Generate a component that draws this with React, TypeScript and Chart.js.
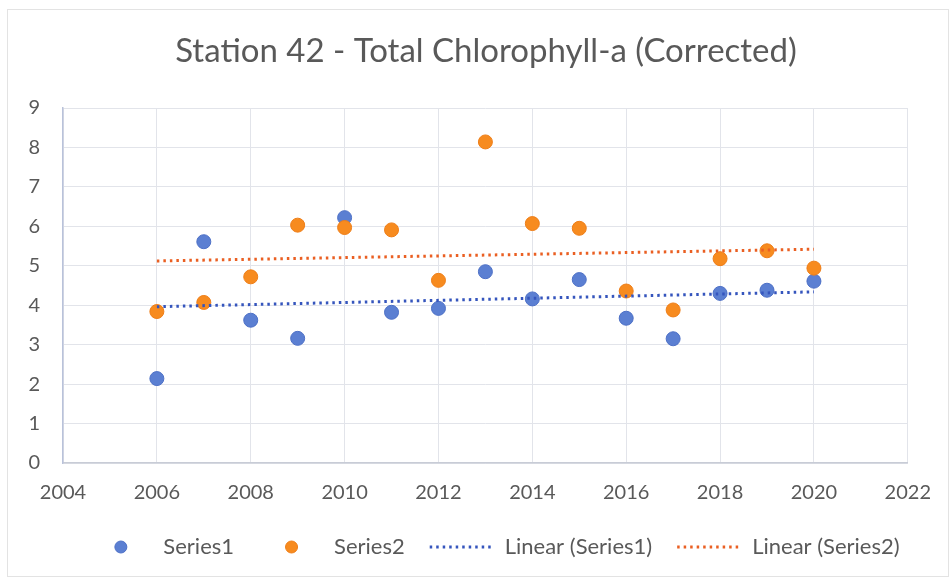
import React, { useEffect, useRef } from "react";
import { Chart, registerables } from "chart.js";

Chart.register(...registerables);

const chartTitle = "Station 42 - Total Chlorophyll-a (Corrected)";
const years = [2006, 2007, 2008, 2009, 2010, 2011, 2012, 2013, 2014, 2015, 2016, 2017, 2018, 2019, 2020];
const series1 = [2.14, 5.61, 3.62, 3.16, 6.22, 3.82, 3.92, 4.85, 4.16, 4.65, 3.67, 3.15, 4.30, 4.38, 4.61];
const series2 = [3.84, 4.07, 4.72, 6.03, 5.97, 5.91, 4.63, 8.14, 6.07, 5.95, 4.36, 3.88, 5.18, 5.38, 4.94];
const xTickValues = [2004, 2006, 2008, 2010, 2012, 2014, 2016, 2018, 2020, 2022];
const yTickValues = [0, 1, 2, 3, 4, 5, 6, 7, 8, 9];
const seriesNames = ["Series1", "Series2", "Linear (Series1)", "Linear (Series2)"];

const FONT = "Lato, 'Open Sans', sans-serif";
const TEXT = "#595959";
const BLUE = "#5b7fd2";
const BLUE_EDGE = "#4d70c6";
const ORANGE = "#f78b1f";
const ORANGE_EDGE = "#ee7e18";
const BLUE_TREND = "#3555bd";
const ORANGE_TREND = "#ea5f22";

function linearFit(xs: number[], ys: number[]) {
  const n = xs.length;
  const mx = xs.reduce((a, b) => a + b, 0) / n;
  const my = ys.reduce((a, b) => a + b, 0) / n;
  let sxy = 0;
  let sxx = 0;
  for (let i = 0; i < n; i++) {
    sxy += (xs[i] - mx) * (ys[i] - my);
    sxx += (xs[i] - mx) * (xs[i] - mx);
  }
  const slope = sxy / sxx;
  const icpt = my - slope * mx;
  const x0 = xs[0];
  const x1 = xs[n - 1];
  return [
    { x: x0, y: icpt + slope * x0 },
    { x: x1, y: icpt + slope * x1 },
  ];
}

const decorPlugin = {
  id: "decor",
  beforeDraw(chart: any) {
    const ctx = chart.ctx;
    ctx.save();
    ctx.strokeStyle = "#e3e3e3";
    ctx.lineWidth = 1;
    ctx.strokeRect(7.5, 9.5, chart.width - 8, chart.height - 10);
    ctx.restore();
  },
  afterDraw(chart: any) {
    const ctx = chart.ctx;
    ctx.save();
    // title
    ctx.fillStyle = TEXT;
    ctx.font = `33px ${FONT}`;
    ctx.textAlign = "center";
    ctx.textBaseline = "middle";
    ctx.fillText(chartTitle, 486, 51);

    // legend
    ctx.font = `22px ${FONT}`;
    const markW = 65;
    const gapText = 10;
    const gapItem = 25;
    const ds = chart.data.datasets;
    const widths = ds.map((d: any) => markW + gapText + ctx.measureText(d.label).width);
    const total = widths.reduce((a: number, b: number) => a + b, 0) + gapItem * (ds.length - 1);
    let x = 494 - total / 2;
    const y = 547;
    ds.forEach((d: any, i: number) => {
      if (d.isTrend) {
        ctx.save();
        ctx.strokeStyle = d.borderColor;
        ctx.lineWidth = d.borderWidth;
        ctx.setLineDash(d.borderDash);
        ctx.beginPath();
        ctx.moveTo(x, y);
        ctx.lineTo(x + markW, y);
        ctx.stroke();
        ctx.restore();
      } else {
        ctx.beginPath();
        ctx.fillStyle = d.backgroundColor;
        ctx.strokeStyle = d.borderColor;
        ctx.lineWidth = 1;
        ctx.arc(x + markW / 2, y, 6, 0, Math.PI * 2);
        ctx.fill();
        ctx.stroke();
      }
      ctx.fillStyle = TEXT;
      ctx.textAlign = "left";
      ctx.textBaseline = "middle";
      ctx.fillText(d.label, x + markW + gapText, y);
      x += widths[i] + gapItem;
    });
    ctx.restore();
  },
};

export default function App() {
  const ref = useRef<HTMLCanvasElement | null>(null);

  useEffect(() => {
    document.body.style.margin = "0";
    const canvas = ref.current;
    if (!canvas) return;
    const pts1 = years.map((x, i) => ({ x, y: series1[i] }));
    const pts2 = years.map((x, i) => ({ x, y: series2[i] }));
    const chart = new Chart(canvas, {
      type: "scatter",
      data: {
        datasets: [
          {
            label: seriesNames[0],
            data: pts1,
            backgroundColor: BLUE,
            borderColor: BLUE_EDGE,
            borderWidth: 1,
            pointRadius: 7,
            order: 3,
          } as any,
          {
            label: seriesNames[1],
            data: pts2,
            backgroundColor: ORANGE,
            borderColor: ORANGE_EDGE,
            borderWidth: 1,
            pointRadius: 7,
            order: 2,
          } as any,
          {
            label: seriesNames[2],
            data: linearFit(years, series1),
            showLine: true,
            isTrend: true,
            borderColor: BLUE_TREND,
            backgroundColor: BLUE_TREND,
            borderWidth: 3,
            borderDash: [2.5, 4],
            pointRadius: 0,
            order: 1,
          } as any,
          {
            label: seriesNames[3],
            data: linearFit(years, series2),
            showLine: true,
            isTrend: true,
            borderColor: ORANGE_TREND,
            backgroundColor: ORANGE_TREND,
            borderWidth: 3,
            borderDash: [2.5, 4],
            pointRadius: 0,
            order: 1,
          } as any,
        ],
      },
      options: {
        animation: false,
        responsive: false,
        layout: { padding: { top: 108, right: 38, bottom: 0, left: 0 } },
        plugins: {
          legend: { display: false },
          title: { display: false },
          tooltip: { enabled: false },
        },
        scales: {
          x: {
            type: "linear",
            min: 2004,
            max: 2022,
            afterBuildTicks: (scale: any) => {
              scale.ticks = xTickValues.map((v) => ({ value: v }));
            },
            afterFit: (scale: any) => {
              scale.height = 114;
            },
            ticks: {
              color: TEXT,
              font: { family: FONT, size: 20 },
              padding: 18,
              maxRotation: 0,
              autoSkip: false,
              callback: (v: any) => String(v),
            },
            grid: { color: "#e2e4ea", drawTicks: false, lineWidth: 1 },
            border: { color: "#c8ccd6", width: 1.5 },
          },
          y: {
            type: "linear",
            min: 0,
            max: 9,
            afterBuildTicks: (scale: any) => {
              scale.ticks = yTickValues.map((v) => ({ value: v }));
            },
            afterFit: (scale: any) => {
              scale.width = 63;
            },
            ticks: {
              color: TEXT,
              font: { family: FONT, size: 20 },
              padding: 23,
              callback: (v: any) => String(v),
            },
            grid: { color: "#e2e4ea", drawTicks: false, lineWidth: 1 },
            border: { color: "#b9c2da", width: 1.5 },
          },
        },
      } as any,
      plugins: [decorPlugin],
    });
    return () => chart.destroy();
  }, []);

  return (
    <div style={{ width: 949, height: 577, background: "#fff" }}>
      <canvas ref={ref} width={949} height={577} style={{ display: "block", width: 949, height: 577 }} />
    </div>
  );
}
